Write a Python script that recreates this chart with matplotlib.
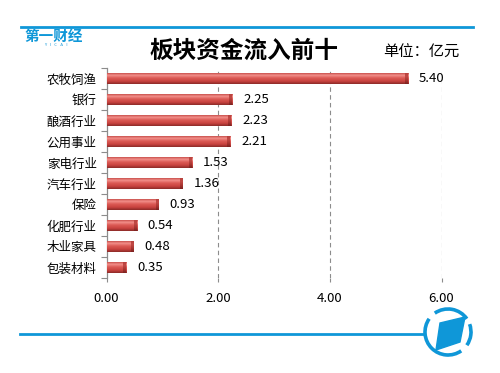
import matplotlib
matplotlib.use("Agg")
import matplotlib.pyplot as plt
import numpy as np
from matplotlib.colors import LinearSegmentedColormap
from matplotlib.patches import Polygon, Arc
from matplotlib.lines import Line2D

plt.rcParams['font.family'] = ['Noto Sans CJK SC', 'DejaVu Sans']

categories = ["农牧饲渔", "银行", "酿酒行业", "公用事业", "家电行业",
              "汽车行业", "保险", "化肥行业", "木业家具", "包装材料"]
values = [5.40, 2.25, 2.23, 2.21, 1.53, 1.36, 0.93, 0.54, 0.48, 0.35]
xticks = [0, 2, 4, 6]
xtick_labels = ["0.00", "2.00", "4.00", "6.00"]
title = "板块资金流入前十"
unit = "单位：亿元"

BLUE = "#0f97d8"
GRAY = "#8c8c8c"

fig = plt.figure(figsize=(5.0, 3.73), dpi=100)
ax = fig.add_axes([0.213, 0.2547, 0.670, 0.563])

ypos = np.arange(len(categories))
bh = 0.48
bars = ax.barh(ypos, values, height=bh, color='none', edgecolor='none', zorder=3)

cmap = LinearSegmentedColormap.from_list(
    "bar3d", [(0.0, "#c9504c"), (0.2, "#f2908b"), (0.45, "#dc5a55"),
              (0.75, "#c8433f"), (1.0, "#8c2a28")])
capmap = LinearSegmentedColormap.from_list(
    "cap3d", [(0.0, "#b8423e"), (0.3, "#c24a46"), (0.7, "#a5332f"), (1.0, "#7a2220")])
grad = np.linspace(0, 1, 64).reshape(-1, 1)
for b, v, y in zip(bars, values, ypos):
    im = ax.imshow(grad, cmap=cmap, aspect='auto', origin='upper',
                   extent=(0, v, y + bh / 2, y - bh / 2), zorder=3,
                   interpolation='bilinear')
    im.set_clip_path(b)
    cap = ax.imshow(grad, cmap=capmap, aspect='auto', origin='upper',
                    extent=(v - 0.05, v, y + bh / 2, y - bh / 2), zorder=4,
                    interpolation='bilinear')
    ax.annotate(f"{v:.2f}", xy=(v, y), xytext=(8, 0), textcoords='offset points',
                va='center', ha='left', fontsize=9.5, color='black', zorder=5)

ax.set_xlim(0, 6)
ax.set_ylim(len(categories) - 0.5, -0.5)
ax.set_xticks(xticks)
ax.set_xticklabels(xtick_labels, fontsize=9.5)
ax.set_yticks(ypos)
ax.set_yticklabels(categories, fontsize=9)
ax.set_yticks(np.arange(-0.5, len(categories), 1.0), minor=True)
ax.tick_params(axis='y', which='major', length=0, pad=7)
ax.tick_params(axis='y', which='minor', length=4, color=GRAY, width=0.8, direction='out')
ax.tick_params(axis='x', which='major', length=3, color=GRAY, width=0.8, pad=7)

for s in ['top', 'right', 'bottom']:
    ax.spines[s].set_visible(False)
ax.spines['left'].set_color(GRAY)
ax.spines['left'].set_linewidth(0.9)

for xv in xticks[1:]:
    ax.axvline(xv, color=GRAY, linestyle=(0, (4, 3)), linewidth=0.8, zorder=1)

# title and unit
fig.text(244 / 500, 1 - 51 / 373, title, ha='center', va='center',
         fontsize=17, fontweight='bold')
fig.text(383 / 500, 1 - 52 / 373, unit, ha='left', va='center', fontsize=11)

W, H = 500, 373
lax = fig.add_axes([0, 0, 1, 1], facecolor='none')
lax.set_xlim(0, W)
lax.set_ylim(H, 0)
lax.axis('off')

# top decoration: blue line and logo
lax.add_line(Line2D([21, 473], [27, 27], color=BLUE, linewidth=2.0))
lax.text(24, 27.5, "第一财经", ha='left', va='top', fontsize=10.5,
         fontweight='bold', color=BLUE)
lax.text(56, 45.5, "Y    I    C    A    I", ha='center', va='center',
         fontsize=3.0, color=BLUE)

# bottom decoration: blue line and circular logo
lax.add_line(Line2D([20, 424], [334, 334], color=BLUE, linewidth=2.0))
cx, cy, r = 448, 332, 23
lax.add_patch(Arc((cx, cy), 2 * r, 2 * r, theta1=-20, theta2=35, color=BLUE, lw=2.6))
lax.add_patch(Arc((cx, cy), 2 * r, 2 * r, theta1=55, theta2=215, color=BLUE, lw=2.6))
lax.add_patch(Arc((cx, cy), 2 * r, 2 * r, theta1=235, theta2=325, color=BLUE, lw=2.6))
lax.add_patch(Polygon([(440, 323), (465, 317), (460, 342), (436, 350)],
                      closed=True, color=BLUE))

fig.savefig("out.png", dpi=100)
